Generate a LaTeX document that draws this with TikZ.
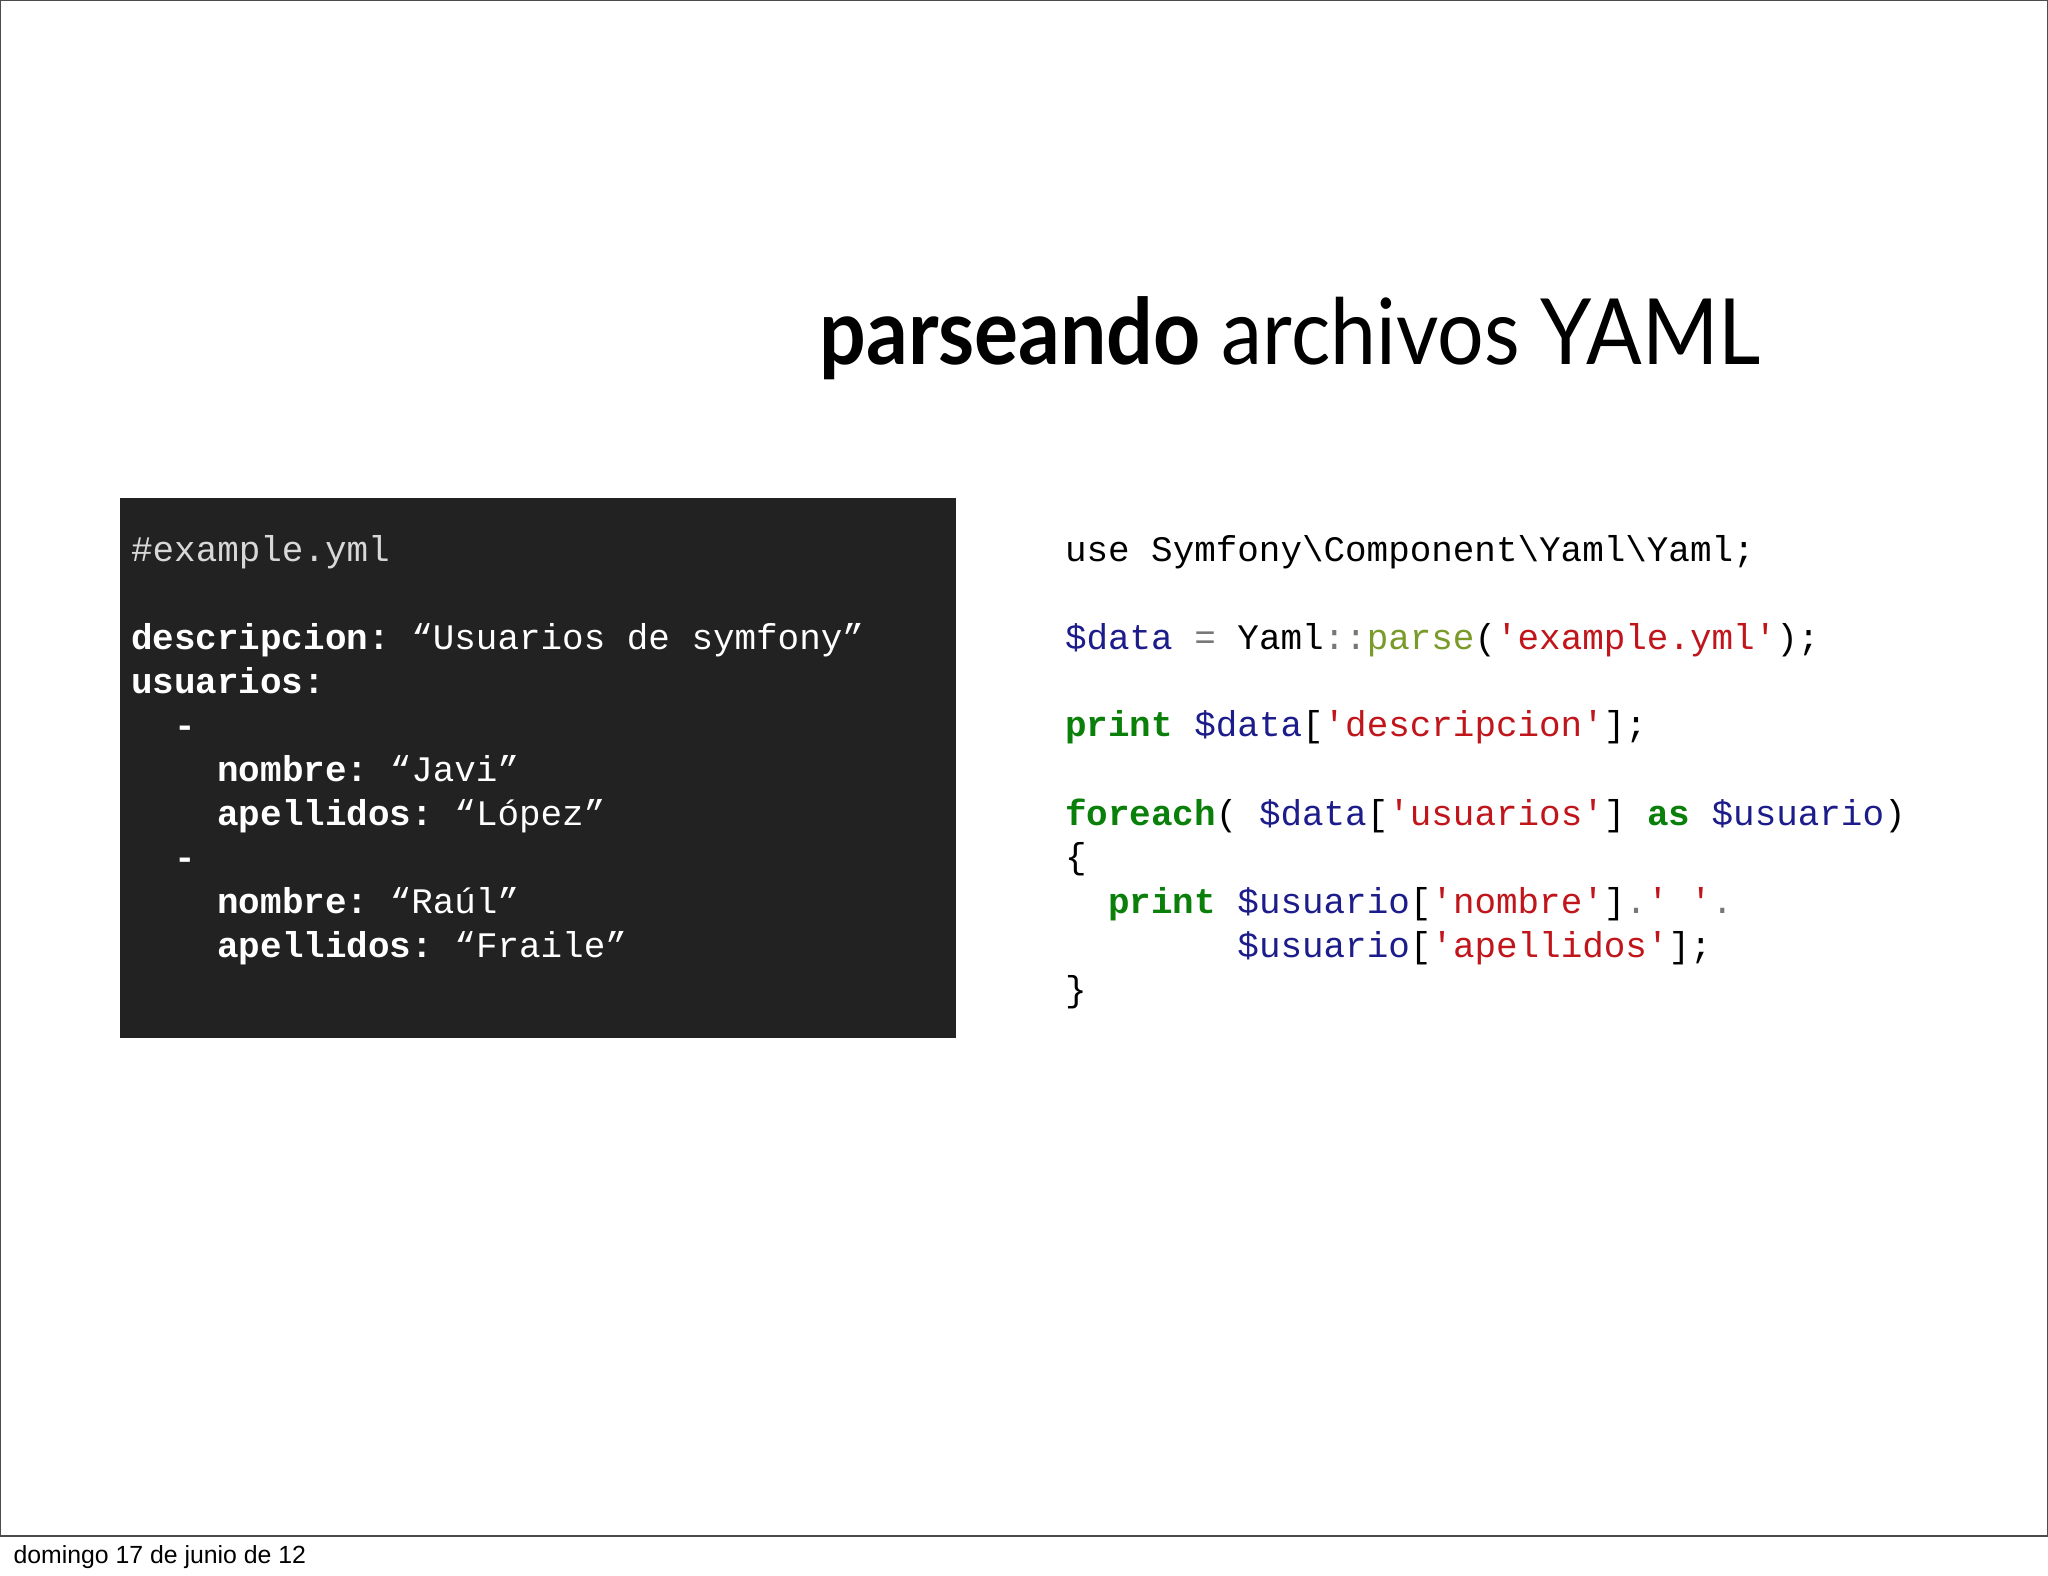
\documentclass[tikz,border=0pt]{standalone}
\usepackage{fontspec}
\usepackage{graphicx}
\setmonofont{Liberation Mono}
\newfontfamily\titlefont{Lato}
\newfontfamily\footfont{Liberation Sans}
\definecolor{boxbg}{HTML}{222222}
\definecolor{vnavy}{HTML}{1C1C8A}
\definecolor{sred}{HTML}{C0161B}
\definecolor{kgreen}{HTML}{0A7F0A}
\definecolor{folive}{HTML}{7A9A2A}
\definecolor{opgrey}{HTML}{777777}
\definecolor{cgrey}{HTML}{D8D8D8}
\begin{document}
\begin{tikzpicture}[x=0.5pt,y=-0.5pt,
  code/.style={anchor=base west,inner sep=0pt,font=\fontsize{13.75pt}{16pt}\ttfamily}]
\useasboundingbox (0,0) rectangle (1568,1206);
\draw[line width=0.6pt,black!70] (0.5,0.5) rectangle (1567.5,1176);
\node[anchor=base west,inner sep=0pt,font=\footfont\fontsize{9.5pt}{11pt}\selectfont] (foot) at (10,1197) {domingo 17 de junio de 12};
\node[anchor=base west,inner sep=0pt,font=\titlefont\fontsize{35pt}{40pt}\selectfont] (title) at (627,279) {\scalebox{0.9}[1]{\textbf{parseando} archivos YAML}};
\fill[boxbg] (92,381) rectangle (732,795);
\begin{scope}[every node/.style={code,text=white}]
\node[text=cgrey] (l1) at (100,430) {\#example.yml};
\node (l2) at (100,497) {\textbf{descripcion:} “Usuarios de symfony”};
\node (l3) at (100,531) {\textbf{usuarios:}};
\node (l4) at (100,565) {\textbf{\ \ -}};
\node (l5) at (100,598) {\ \ \ \ \textbf{nombre:} “Javi”};
\node (l6) at (100,632) {\ \ \ \ \textbf{apellidos:} “López”};
\node (l7) at (100,666) {\textbf{\ \ -}};
\node (l8) at (100,699) {\ \ \ \ \textbf{nombre:} “Raúl”};
\node (l9) at (100,733) {\ \ \ \ \textbf{apellidos:} “Fraile”};
\end{scope}
\begin{scope}[every node/.style={code,text=black}]
\node (r1) at (815,430) {use Symfony\textbackslash Component\textbackslash Yaml\textbackslash Yaml;};
\node (r2) at (815,497) {\textcolor{vnavy}{\$data} \textcolor{opgrey}{=} Yaml\textcolor{opgrey}{::}\textcolor{folive}{parse}(\textcolor{sred}{'example.yml'});};
\node (r3) at (815,564) {\textcolor{kgreen}{\textbf{print}} \textcolor{vnavy}{\$data}[\textcolor{sred}{'descripcion'}];};
\node (r4) at (815,632) {\textcolor{kgreen}{\textbf{foreach}}( \textcolor{vnavy}{\$data}[\textcolor{sred}{'usuarios'}] \textcolor{kgreen}{\textbf{as}} \textcolor{vnavy}{\$usuario})};
\node (r5) at (815,665) {\{};
\node (r6) at (815,699) {\ \ \textcolor{kgreen}{\textbf{print}} \textcolor{vnavy}{\$usuario}[\textcolor{sred}{'nombre'}]\textcolor{opgrey}{.}\textcolor{sred}{' '}\textcolor{opgrey}{.}};
\node (r7) at (815,733) {\ \ \ \ \ \ \ \ \textcolor{vnavy}{\$usuario}[\textcolor{sred}{'apellidos'}];};
\node (r8) at (815,767) {\}};
\end{scope}
\end{tikzpicture}
\end{document}
